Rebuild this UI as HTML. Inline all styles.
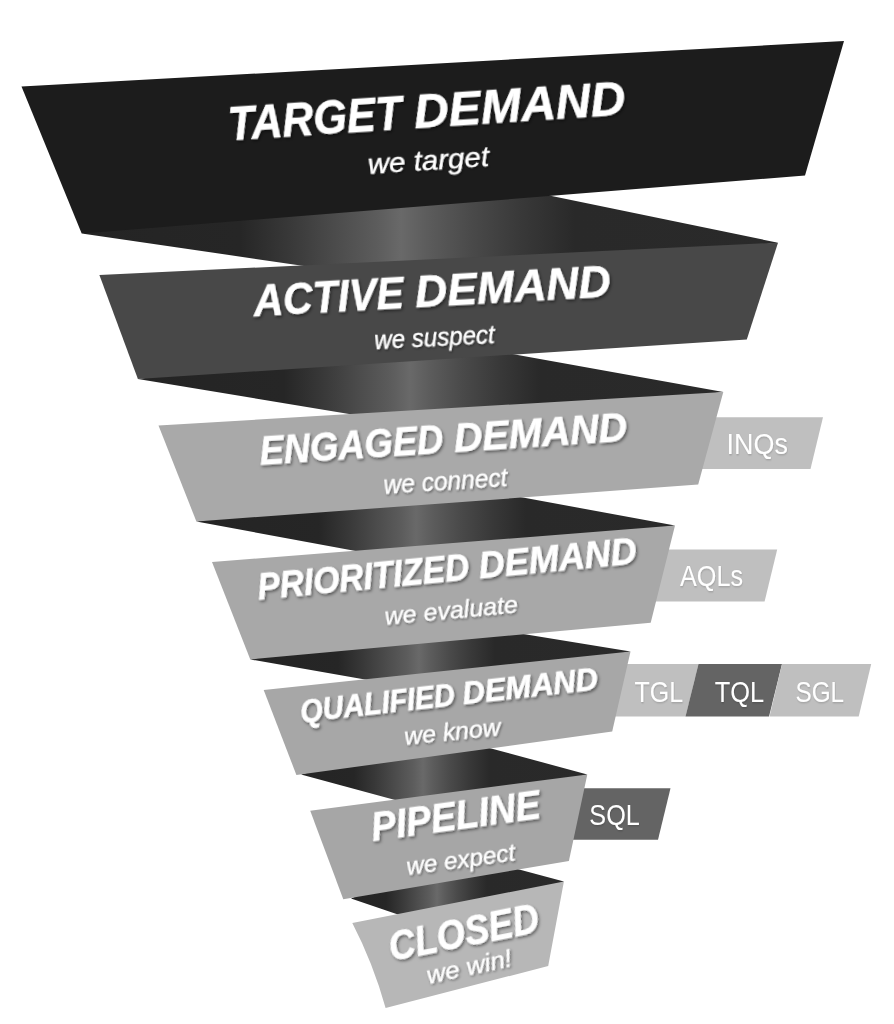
<!DOCTYPE html>
<html><head><meta charset="utf-8"><style>
html,body{margin:0;padding:0;background:#fff;width:894px;height:1024px;overflow:hidden}
svg{display:block;font-family:"Liberation Sans",sans-serif}
</style></head><body>
<svg width="894" height="1024" viewBox="0 0 894 1024">
<defs><filter id="soft" x="0" y="0" width="100%" height="100%"><feGaussianBlur stdDeviation="0.5"/></filter><filter id="ts3" x="-10%" y="-30%" width="120%" height="160%"><feDropShadow dx="0.5" dy="1" stdDeviation="0.8" flood-color="#000" flood-opacity="0.2"/></filter><filter id="ts" x="-10%" y="-30%" width="120%" height="160%"><feDropShadow dx="1.3" dy="2" stdDeviation="1.6" flood-color="#000" flood-opacity="0.5"/></filter><filter id="ts2" x="-10%" y="-30%" width="120%" height="160%"><feDropShadow dx="1" dy="1.5" stdDeviation="1.2" flood-color="#000" flood-opacity="0.45"/></filter><linearGradient id="g0" gradientUnits="userSpaceOnUse" x1="76.7" y1="0" x2="783.0" y2="0"><stop offset="0" stop-color="#242424"/><stop offset="0.2312" stop-color="#262626"/><stop offset="0.2996" stop-color="#383838"/><stop offset="0.3680" stop-color="#4c4c4c"/><stop offset="0.4250" stop-color="#5c5c5c"/><stop offset="0.4592" stop-color="#696969"/><stop offset="0.4961" stop-color="#5c5c5c"/><stop offset="0.5577" stop-color="#4a4a4a"/><stop offset="0.6316" stop-color="#383838"/><stop offset="0.7055" stop-color="#292929"/><stop offset="1" stop-color="#2a2a2a"/></linearGradient><linearGradient id="g1" gradientUnits="userSpaceOnUse" x1="132.9" y1="0" x2="728.3" y2="0"><stop offset="0" stop-color="#242424"/><stop offset="0.2538" stop-color="#262626"/><stop offset="0.3173" stop-color="#383838"/><stop offset="0.3808" stop-color="#4c4c4c"/><stop offset="0.4337" stop-color="#5c5c5c"/><stop offset="0.4654" stop-color="#696969"/><stop offset="0.4982" stop-color="#5c5c5c"/><stop offset="0.5527" stop-color="#4a4a4a"/><stop offset="0.6182" stop-color="#383838"/><stop offset="0.6837" stop-color="#292929"/><stop offset="1" stop-color="#2a2a2a"/></linearGradient><linearGradient id="g2" gradientUnits="userSpaceOnUse" x1="191.4" y1="0" x2="680.0" y2="0"><stop offset="0" stop-color="#242424"/><stop offset="0.2612" stop-color="#262626"/><stop offset="0.3207" stop-color="#383838"/><stop offset="0.3803" stop-color="#4c4c4c"/><stop offset="0.4299" stop-color="#5c5c5c"/><stop offset="0.4597" stop-color="#696969"/><stop offset="0.4935" stop-color="#5c5c5c"/><stop offset="0.5497" stop-color="#4a4a4a"/><stop offset="0.6173" stop-color="#383838"/><stop offset="0.6848" stop-color="#292929"/><stop offset="1" stop-color="#2a2a2a"/></linearGradient><linearGradient id="g3" gradientUnits="userSpaceOnUse" x1="245.3" y1="0" x2="635.5" y2="0"><stop offset="0" stop-color="#242424"/><stop offset="0.2376" stop-color="#262626"/><stop offset="0.2998" stop-color="#383838"/><stop offset="0.3621" stop-color="#4c4c4c"/><stop offset="0.4140" stop-color="#5c5c5c"/><stop offset="0.4452" stop-color="#696969"/><stop offset="0.4744" stop-color="#5c5c5c"/><stop offset="0.5231" stop-color="#4a4a4a"/><stop offset="0.5815" stop-color="#383838"/><stop offset="0.6399" stop-color="#292929"/><stop offset="1" stop-color="#2a2a2a"/></linearGradient><linearGradient id="g4" gradientUnits="userSpaceOnUse" x1="296.0" y1="0" x2="592.3" y2="0"><stop offset="0" stop-color="#242424"/><stop offset="0.1957" stop-color="#262626"/><stop offset="0.2656" stop-color="#383838"/><stop offset="0.3355" stop-color="#4c4c4c"/><stop offset="0.3937" stop-color="#5c5c5c"/><stop offset="0.4286" stop-color="#696969"/><stop offset="0.4625" stop-color="#5c5c5c"/><stop offset="0.5191" stop-color="#4a4a4a"/><stop offset="0.5869" stop-color="#383838"/><stop offset="0.6547" stop-color="#292929"/><stop offset="1" stop-color="#2a2a2a"/></linearGradient><linearGradient id="g5" gradientUnits="userSpaceOnUse" x1="346.0" y1="0" x2="568.9" y2="0"><stop offset="0" stop-color="#242424"/><stop offset="0.1795" stop-color="#262626"/><stop offset="0.2481" stop-color="#383838"/><stop offset="0.3167" stop-color="#4c4c4c"/><stop offset="0.3739" stop-color="#5c5c5c"/><stop offset="0.4083" stop-color="#696969"/><stop offset="0.4419" stop-color="#5c5c5c"/><stop offset="0.4980" stop-color="#4a4a4a"/><stop offset="0.5653" stop-color="#383838"/><stop offset="0.6326" stop-color="#292929"/><stop offset="1" stop-color="#2a2a2a"/></linearGradient></defs>
<polygon points="81.7,233.5 429.9,171.0 778.0,242.7 429.9,284.3" fill="url(#g0)"/>
<polygon points="137.9,379.0 430.6,339.3 723.3,392.0 430.6,427.6" fill="url(#g1)"/>
<polygon points="196.4,521.5 435.7,481.5 675.0,525.5 435.7,565.8" fill="url(#g2)"/>
<polygon points="250.3,659.4 440.4,620.4 630.5,651.4 440.4,692.7" fill="url(#g3)"/>
<polygon points="301.0,774.5 444.1,735.9 587.3,774.4 444.1,813.2" fill="url(#g4)"/>
<polygon points="351.0,898.5 457.4,852.8 563.9,881.5 457.4,934.7" fill="url(#g5)"/>
<polygon points="640.0,417.3 823.0,417.3 810.5,469.1 627.5,469.1" fill="#bfbfbf"/>
<polygon points="600.0,549.4 777.2,549.4 764.6,601.4 587.4,601.4" fill="#bfbfbf"/>
<polygon points="580.0,664.1 698.5,664.1 685.6,716.4 567.1,716.4" fill="#bfbfbf"/>
<polygon points="698.5,664.1 782.0,664.1 769.0,716.4 685.5,716.4" fill="#646464"/>
<polygon points="782.0,664.1 871.2,664.1 858.7,716.4 769.5,716.4" fill="#bfbfbf"/>
<polygon points="540.0,788.3 670.5,788.3 658.0,839.7 527.5,839.7" fill="#646464"/>
<text transform="translate(726.57,454.00) scale(0.9212,1)" font-size="29.29" fill="#fff" filter="url(#ts3)">INQs</text>
<text transform="translate(680.00,586.20) scale(0.8606,1)" font-size="29.29" fill="#fff" filter="url(#ts3)">AQLs</text>
<text transform="translate(634.50,701.70) scale(0.8546,1)" font-size="29.29" fill="#fff" filter="url(#ts3)">TGL</text>
<text transform="translate(714.69,701.70) scale(0.8672,1)" font-size="29.29" fill="#fff" filter="url(#ts3)">TQL</text>
<text transform="translate(795.48,701.70) scale(0.8305,1)" font-size="29.29" fill="#fff" filter="url(#ts3)">SGL</text>
<text transform="translate(589.34,824.60) scale(0.8608,1)" font-size="29.29" fill="#fff" filter="url(#ts3)">SQL</text>
<polygon points="21.5,86.5 844.0,41.0 805.0,175.5 81.7,233.5" fill="#1c1c1c"/>
<polygon points="99.4,275.0 778.0,242.7 746.8,339.4 137.9,379.0" fill="#484848"/>
<polygon points="158.5,425.4 723.3,392.0 698.2,484.6 196.4,521.5" fill="#a9a9a9"/>
<polygon points="212.0,562.0 675.0,525.5 650.7,622.7 250.3,659.4" fill="#a8a8a8"/>
<polygon points="263.7,690.0 630.5,651.4 612.2,731.6 296.4,775.0" fill="#a7a7a7"/>
<polygon points="310.2,810.8 587.3,774.4 568.9,861.0 343.3,899.2" fill="#a6a6a6"/>
<path d="M352.3,923.1 L563.9,881.5 L548.2,966 L385.6,1008 Q373,963 352.3,923.1 Z" fill="#b7b7b7"/>
<text transform="translate(229.02,140.35) rotate(-3.748) scale(0.9128,1)" font-size="47.26" font-weight="bold" font-style="italic" fill="#fff" stroke="#fff" stroke-width="0.5" filter="url(#ts)">TARGET</text>
<text transform="translate(414.89,128.18) rotate(-3.748) scale(1.0214,1)" font-size="47.26" font-weight="bold" font-style="italic" fill="#fff" stroke="#fff" stroke-width="0.5" filter="url(#ts)">DEMAND</text>
<text transform="translate(368.38,173.93) rotate(-3.719) scale(1.0862,1)" font-size="27.17" font-weight="normal" font-style="italic" fill="#fff" stroke="#fff" stroke-width="0.3" filter="url(#ts2)">we target</text>
<text transform="translate(254.31,316.25) rotate(-3.188) scale(0.9213,1)" font-size="44.52" font-weight="bold" font-style="italic" fill="#fff" stroke="#fff" stroke-width="0.5" filter="url(#ts)">ACTIVE</text>
<text transform="translate(415.77,307.26) rotate(-3.188) scale(1.0039,1)" font-size="44.52" font-weight="bold" font-style="italic" fill="#fff" stroke="#fff" stroke-width="0.5" filter="url(#ts)">DEMAND</text>
<text transform="translate(374.69,349.18) rotate(-2.862) scale(0.9327,1)" font-size="25.85" font-weight="normal" font-style="italic" fill="#fff" stroke="#fff" stroke-width="0.3" filter="url(#ts2)">we suspect</text>
<text transform="translate(260.47,464.75) rotate(-3.759) scale(0.9160,1)" font-size="39.73" font-weight="bold" font-style="italic" fill="#fff" stroke="#fff" stroke-width="0.5" filter="url(#ts)">ENGAGED</text>
<text transform="translate(454.71,451.99) rotate(-3.759) scale(0.9961,1)" font-size="39.73" font-weight="bold" font-style="italic" fill="#fff" stroke="#fff" stroke-width="0.5" filter="url(#ts)">DEMAND</text>
<text transform="translate(384.01,493.82) rotate(-3.571) scale(0.9788,1)" font-size="25.09" font-weight="normal" font-style="italic" fill="#fff" stroke="#fff" stroke-width="0.3" filter="url(#ts2)">we connect</text>
<text transform="translate(258.73,599.66) rotate(-5.495) scale(0.9245,1)" font-size="36.30" font-weight="bold" font-style="italic" fill="#fff" stroke="#fff" stroke-width="0.5" filter="url(#ts)">PRIORITIZED</text>
<text transform="translate(479.85,578.39) rotate(-5.495) scale(0.9954,1)" font-size="36.30" font-weight="bold" font-style="italic" fill="#fff" stroke="#fff" stroke-width="0.5" filter="url(#ts)">DEMAND</text>
<text transform="translate(385.39,624.81) rotate(-5.313) scale(1.0217,1)" font-size="24.53" font-weight="normal" font-style="italic" fill="#fff" stroke="#fff" stroke-width="0.3" filter="url(#ts2)">we evaluate</text>
<text transform="translate(301.41,722.27) rotate(-6.334) scale(0.9157,1)" font-size="31.51" font-weight="bold" font-style="italic" fill="#fff" stroke="#fff" stroke-width="0.5" filter="url(#ts)">QUALIFIED</text>
<text transform="translate(463.58,704.27) rotate(-6.334) scale(0.9849,1)" font-size="31.51" font-weight="bold" font-style="italic" fill="#fff" stroke="#fff" stroke-width="0.5" filter="url(#ts)">DEMAND</text>
<text transform="translate(405.04,744.87) rotate(-5.767) scale(1.0616,1)" font-size="23.40" font-weight="normal" font-style="italic" fill="#fff" stroke="#fff" stroke-width="0.3" filter="url(#ts2)">we know</text>
<text transform="translate(372.96,841.00) rotate(-7.801) scale(0.9112,1)" font-size="41.10" font-weight="bold" font-style="italic" fill="#fff" stroke="#fff" stroke-width="0.5" filter="url(#ts)">PIPELINE</text>
<text transform="translate(407.56,875.02) rotate(-7.688) scale(1.0146,1)" font-size="23.96" font-weight="normal" font-style="italic" fill="#fff" stroke="#fff" stroke-width="0.3" filter="url(#ts2)">we expect</text>
<text transform="translate(391.67,961.27) rotate(-11.310) scale(0.8618,1)" font-size="42.47" font-weight="bold" font-style="italic" fill="#fff" stroke="#fff" stroke-width="0.5" filter="url(#ts)">CLOSED</text>
<text transform="translate(428.52,983.97) rotate(-12.189) scale(1.1093,1)" font-size="23.40" font-weight="normal" font-style="italic" fill="#fff" stroke="#fff" stroke-width="0.3" filter="url(#ts2)">we win!</text>
</svg></body></html>
